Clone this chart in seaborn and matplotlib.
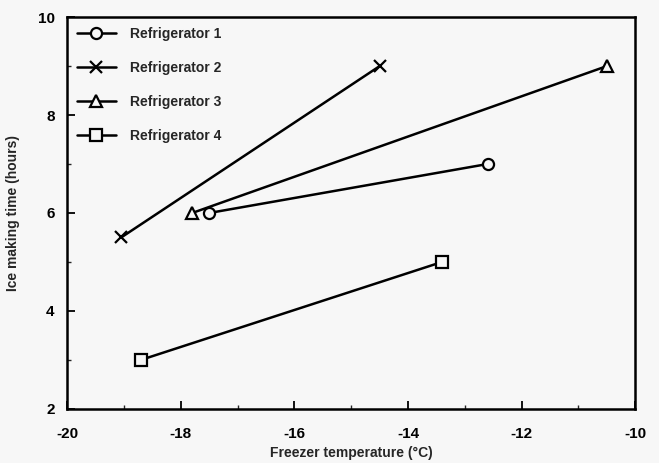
import matplotlib
matplotlib.use("Agg")
import matplotlib.pyplot as plt
import seaborn as sns
import pandas as pd
from matplotlib.ticker import MultipleLocator

sns.set_theme(style="ticks")
plt.rcParams['font.family'] = ['Liberation Sans', 'DejaVu Sans']
plt.rcParams['font.weight'] = 'bold'
plt.rcParams['axes.unicode_minus'] = False

series = ["Refrigerator 1", "Refrigerator 2", "Refrigerator 3", "Refrigerator 4"]
r1_x = [-17.5, -12.6]
r1_y = [6.0, 7.0]
r2_x = [-19.05, -14.5]
r2_y = [5.5, 9.0]
r3_x = [-17.8, -10.5]
r3_y = [6.0, 9.0]
r4_x = [-18.7, -13.4]
r4_y = [3.0, 5.0]
markers = ["o", "x", "^", "s"]

xs = [r1_x, r2_x, r3_x, r4_x]
ys = [r1_y, r2_y, r3_y, r4_y]

bg = "#f7f7f7"
fig = plt.figure(figsize=(6.59, 4.63), dpi=100, facecolor=bg)
ax = fig.add_axes([0.102, 0.117, 0.862, 0.846])
ax.set_facecolor(bg)

for name, x, y, m in zip(series, xs, ys, markers):
    df = pd.DataFrame({"x": x, "y": y})
    kw = dict(markerfacecolor=bg, markeredgecolor="black", markeredgewidth=1.6)
    if m == "x":
        kw = dict(markeredgecolor="black", markeredgewidth=1.6)
    sns.lineplot(data=df, x="x", y="y", ax=ax, color="black", linewidth=1.8,
                 marker=m, markersize=8 if m != "x" else 9, label=name, **kw)

ax.set_xlim(-20, -10)
ax.set_ylim(2, 10)
ax.xaxis.set_major_locator(MultipleLocator(2))
ax.xaxis.set_minor_locator(MultipleLocator(1))
ax.yaxis.set_major_locator(MultipleLocator(2))
ax.yaxis.set_minor_locator(MultipleLocator(1))
ax.tick_params(which="major", direction="in", length=6, width=1.3, labelsize=11,
               colors="black")
ax.tick_params(axis="y", which="major", pad=9)
ax.tick_params(axis="x", which="major", pad=13)
ax.tick_params(which="minor", direction="in", length=3, width=1)
for lab in ax.get_xticklabels() + ax.get_yticklabels():
    lab.set_fontweight("bold")
for s in ax.spines.values():
    s.set_linewidth(1.8)
    s.set_color("black")

ax.set_xlabel("Freezer temperature (°C)", fontsize=10, fontweight="bold", labelpad=4)
ax.set_ylabel("Ice making time (hours)", fontsize=10, fontweight="bold", labelpad=13)

leg = ax.legend(loc="upper left", frameon=False, handlelength=2.8, fontsize=10,
                labelspacing=1.45, borderaxespad=0.3, handletextpad=1.0)
for t in leg.get_texts():
    t.set_fontweight("bold")

fig.savefig("out.png", dpi=100, facecolor=fig.get_facecolor())
